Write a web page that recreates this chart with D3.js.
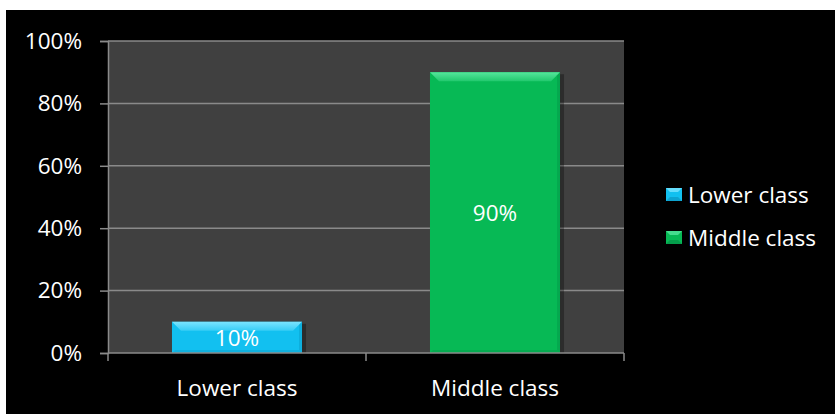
<!DOCTYPE html>
<html>
<head>
<meta charset="utf-8">
<script src="https://cdn.jsdelivr.net/npm/d3@7"></script>
<style>
  html, body { margin: 0; padding: 0; background: #ffffff; }
  svg { display: block; }
  text { font-family: "Open Sans", Lato, sans-serif; }
</style>
</head>
<body>
<svg id="chart" width="835" height="414"></svg>
<script>
// Share of respondents by class
const categories = ["Lower class", "Middle class"];
const values = [0.10, 0.90];
const seriesColors = ["#12c0f0", "#07b955"];
const lightColors = ["#7ae4ff", "#55e69c"];
const darkColors = ["#0a8fbb", "#048a45"];
const yTicks = [0, 0.2, 0.4, 0.6, 0.8, 1.0];

const FONT = "'Open Sans', Lato, sans-serif";
const FS = 22.5;

const svg = d3.select("#chart");
const W = 835, H = 414;

// black canvas with thin white margin top/left
svg.append("rect").attr("x", 6).attr("y", 10).attr("width", W - 6).attr("height", H - 10).attr("fill", "#000");

const plot = { left: 108, right: 624, top: 41, bottom: 353 };

svg.append("rect")
  .attr("x", plot.left).attr("y", plot.top)
  .attr("width", plot.right - plot.left).attr("height", plot.bottom - plot.top)
  .attr("fill", "#404040");

const x = d3.scaleBand().domain(categories).range([plot.left, plot.right]).paddingInner(0.496).paddingOuter(0.248);
const y = d3.scaleLinear().domain([0, 1]).range([plot.bottom, plot.top]);

// gridlines
svg.append("g").selectAll("line").data(yTicks.slice(1)).join("line")
  .attr("x1", plot.left).attr("x2", plot.right)
  .attr("y1", d => y(d)).attr("y2", d => y(d))
  .attr("stroke", "#8a8a8a").attr("stroke-width", 1.5);

// y axis
const yAxis = svg.append("g").attr("transform", `translate(${plot.left},0)`)
  .call(d3.axisLeft(y).tickValues(yTicks).tickFormat(d3.format(".0%")).tickSize(8).tickPadding(18));
yAxis.select(".domain").attr("stroke", "#8a8a8a").attr("stroke-width", 1.5);
yAxis.selectAll(".tick line").attr("stroke", "#8a8a8a").attr("stroke-width", 1.5);
yAxis.selectAll(".tick text").attr("fill", "#fff").attr("font-size", FS).attr("font-family", FONT);

// gradient for the top bevel
const defs = svg.append("defs");
categories.forEach((c, i) => {
  const gr = defs.append("linearGradient").attr("id", "bevel" + i).attr("x1", 0).attr("y1", 0).attr("x2", 0).attr("y2", 1);
  gr.append("stop").attr("offset", 0).attr("stop-color", lightColors[i]).attr("stop-opacity", 1);
  gr.append("stop").attr("offset", 1).attr("stop-color", lightColors[i]).attr("stop-opacity", 0.35);
});

// bars with bevel
const bars = svg.append("g").selectAll("g").data(categories).join("g");
bars.each(function (c, i) {
  const g = d3.select(this);
  const bx = x(c), bw = x.bandwidth(), by = y(values[i]), bh = plot.bottom - by;
  const b = Math.min(9, bh / 2);
  // shadow
  g.append("rect").attr("x", bx + 2).attr("y", by + 2).attr("width", bw + 2).attr("height", bh - 2)
    .attr("fill", "#000").attr("opacity", 0.3);
  g.append("rect").attr("x", bx).attr("y", by).attr("width", bw).attr("height", bh).attr("fill", seriesColors[i]);
  // top bevel
  g.append("polygon").attr("points", [[bx, by], [bx + bw, by], [bx + bw - b, by + b], [bx + b, by + b]].join(" "))
    .attr("fill", `url(#bevel${i})`);
  // right bevel
  g.append("polygon").attr("points", [[bx + bw, by], [bx + bw, by + bh], [bx + bw - 3, by + bh - 3], [bx + bw - 3, by + 3]].join(" "))
    .attr("fill", darkColors[i]).attr("opacity", 0.35);
  // bottom bevel
  g.append("polygon").attr("points", [[bx, by + bh], [bx + bw, by + bh], [bx + bw - 3, by + bh - 3], [bx + 3, by + bh - 3]].join(" "))
    .attr("fill", darkColors[i]).attr("opacity", 0.3);
  // value label
  g.append("text").attr("x", bx + bw / 2).attr("y", by + bh / 2).attr("dy", "0.36em")
    .attr("text-anchor", "middle").attr("fill", "#fff").attr("font-size", FS)
    .text(d3.format(".0%")(values[i]));
});

// x axis
const xAxis = svg.append("g").attr("transform", `translate(0,${plot.bottom})`)
  .call(d3.axisBottom(x).tickSize(0).tickPadding(27));
xAxis.select(".domain").attr("stroke", "#8a8a8a").attr("stroke-width", 1.5).attr("d", `M${plot.left},0H${plot.right}`);
xAxis.selectAll(".tick text").attr("fill", "#fff").attr("font-size", FS).attr("font-family", FONT);
const xTickPos = [plot.left, ...categories.slice(1).map(c => x(c) - x.step() * x.paddingInner() / 2), plot.right];
xAxis.append("g").selectAll("line").data(xTickPos).join("line")
  .attr("x1", d => d).attr("x2", d => d).attr("y1", 0).attr("y2", 8)
  .attr("stroke", "#8a8a8a").attr("stroke-width", 1.5);

// legend
const legend = svg.append("g").selectAll("g").data(categories).join("g")
  .attr("transform", (d, i) => `translate(666,${188 + i * 43})`);
legend.append("rect").attr("width", 16).attr("height", 13).attr("fill", (d, i) => seriesColors[i]);
legend.append("polygon").attr("points", "0,0 16,0 12,4 4,4").attr("fill", (d, i) => lightColors[i]).attr("opacity", 0.8);
legend.append("polygon").attr("points", "0,13 16,13 12,9 4,9").attr("fill", (d, i) => darkColors[i]).attr("opacity", 0.6);
legend.append("text").attr("x", 22).attr("y", 6.5).attr("dy", "0.36em")
  .attr("fill", "#fff").attr("font-size", FS).text(d => d);
</script>
</body>
</html>
